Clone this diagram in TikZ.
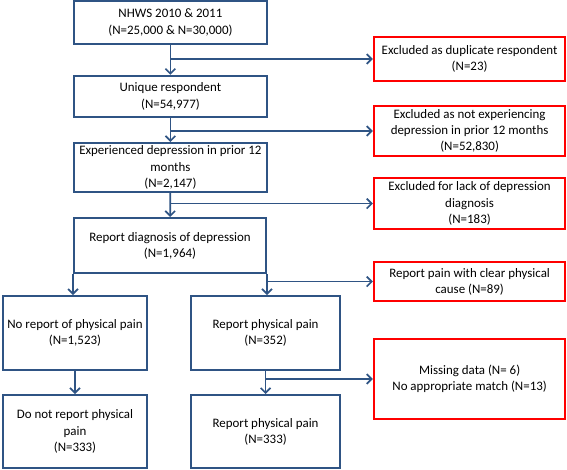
\documentclass[tikz,border=0pt]{standalone}
\usepackage{fontspec}
\setmainfont{Carlito}
\usetikzlibrary{arrows.meta}
\definecolor{boxblue}{RGB}{47,84,132}
\definecolor{exred}{RGB}{255,0,0}
\tikzset{
  stage/.style={draw=boxblue, line width=1.4pt, align=center, inner sep=0pt,
    font=\fontsize{9.2}{11.6}\selectfont},
  excl/.style={draw=exred, line width=1.6pt, align=center, inner sep=0pt,
    minimum width=4.78cm, font=\fontsize{9.2}{11.6}\selectfont},
  flow/.style={draw=boxblue, line width=1.2pt, -{Straight Barb[length=3.5pt,width=7pt]}}
}

\begin{document}
\begin{tikzpicture}
  \useasboundingbox (0,0) rectangle (14.175,-11.75);

  % main column
  \node[stage, minimum width=4.83cm, minimum height=1.08cm] (nhws) at (4.26,-0.56)
    {NHWS 2010 \& 2011\\(N=25,000 \& N=30,000)};
  \node[stage, minimum width=4.83cm, minimum height=1.03cm] (uniq) at (4.26,-2.41)
    {Unique respondent\\(N=54,977)};
  \node[stage, minimum width=4.83cm, minimum height=1.23cm] (exper) at (4.26,-4.19)
    {Experienced depression in prior 12\\months\\(N=2,147)};
  \node[stage, minimum width=4.8cm, minimum height=1.38cm] (diag) at (4.25,-6.14)
    {Report diagnosis of depression\\(N=1,964)};

  % two arms
  \node[stage, minimum width=3.6cm, minimum height=1.85cm] (nopain) at (1.875,-8.325)
    {No report of physical pain\\(N=1,523)};
  \node[stage, minimum width=3.73cm, minimum height=1.85cm] (pain) at (6.64,-8.325)
    {Report physical pain\\(N=352)};
  \node[stage, minimum width=3.6cm, minimum height=1.83cm] (nopainfin) at (1.875,-10.79)
    {Do not report physical\\pain\\(N=333)};
  \node[stage, minimum width=3.73cm, minimum height=1.83cm] (painfin) at (6.64,-10.79)
    {Report physical pain\\(N=333)};

  % exclusions
  \node[excl, minimum height=1.1cm] (dup) at (11.74,-1.475)
    {Excluded as duplicate respondent\\(N=23)};
  \node[excl, minimum height=1.25cm] (notexp) at (11.74,-3.275)
    {Excluded as not experiencing\\depression in prior 12 months\\(N=52,830)};
  \node[excl, minimum height=1.28cm] (nodiag) at (11.74,-5.09)
    {Excluded for lack of depression\\diagnosis\\(N=183)};
  \node[excl, minimum height=0.98cm] (cause) at (11.74,-7.04)
    {Report pain with clear physical\\cause (N=89)};
  \node[excl, minimum height=2.0cm] (miss) at (11.74,-9.475)
    {Missing data (N= 6)\\No appropriate match (N=13)};

  % connectors
  \draw[flow] (nhws) -- (uniq);
  \draw[flow] (uniq) -- (exper);
  \draw[flow] (exper) -- (diag);
  \draw[flow] (diag.south west) -- (diag.south west |- nopain.north);
  \draw[flow] (diag.south east) -- (diag.south east |- pain.north);
  \draw[flow] (nopain) -- (nopainfin);
  \draw[flow] (pain) -- (painfin);

  \draw[flow] (nhws.south |- dup.west) -- (dup.west);
  \draw[flow] (uniq.south |- notexp.west) -- (notexp.west);
  \draw[flow] (exper.south |- nodiag.west) -- (nodiag.west);
  \draw[flow] (diag.south east |- cause.west) -- (cause.west);
  \draw[flow] (pain.south |- miss.west) -- (miss.west);
\end{tikzpicture}
\end{document}
